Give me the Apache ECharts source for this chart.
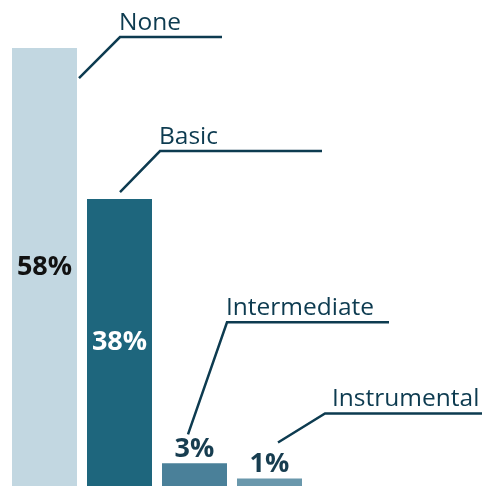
<!DOCTYPE html>
<html><head><meta charset="utf-8">
<style>html,body{margin:0;padding:0;background:#fff}#c{width:482px;height:486px}</style>
<script src="https://cdn.jsdelivr.net/npm/echarts@6/dist/echarts.min.js"></script>
</head><body><div id="c"></div>
<script>
const categories = ['None', 'Basic', 'Intermediate', 'Instrumental'];
const values = [58, 38, 3, 1];
const valueLabels = ['58%', '38%', '3%', '1%'];

const barColors = ['#c2d7e1', '#1e667d', '#4a8099', '#6a98ac'];
const labelInside = [true, true, false, false];
const insideColors = ['#111111', '#ffffff', '#173d50', '#173d50'];
// callout offsets relative to bar top-centre: [startDx, startDy, elbowDx, elbowDy, endDx, textDx]
const callouts = [
  [34.5, 30, 75.5, -11, 177.5, 0],
  [0.5, -7, 40.5, -48, 202.5, 0],
  [-6.5, -29, 32.5, -141, 194.5, 0],
  [8.5, -36, 55.5, -65, 212.5, 8]
];
const font = '"Open Sans", sans-serif';
const ink = '#0d3b50';

const chart = echarts.init(document.getElementById('c'), null, {renderer: 'canvas'});
chart.setOption({
  animation: false,
  grid: {left: 7, width: 300, top: 33, bottom: 0},
  xAxis: {type: 'category', data: categories, show: false},
  yAxis: {type: 'value', min: 0, max: 60, show: false},
  series: [{
    type: 'bar',
    barWidth: 65,
    data: values.map((v, i) => ({
      value: v,
      itemStyle: {color: barColors[i]},
      label: {
        show: true,
        position: labelInside[i] ? 'inside' : 'top',
        distance: 1,
        formatter: valueLabels[i],
        color: insideColors[i],
        fontFamily: font,
        fontWeight: 'bold',
        fontSize: 27
      }
    }))
  }]
});

const graphic = [];
values.forEach((v, i) => {
  const p = chart.convertToPixel({seriesIndex: 0}, [i, v]);
  const c = callouts[i];
  const s = [p[0] + c[0], p[1] + c[1]];
  const e = [p[0] + c[2], p[1] + c[3]];
  const f = [p[0] + c[4], p[1] + c[3]];
  graphic.push({
    type: 'polyline',
    shape: {points: [s, e, f]},
    style: {stroke: ink, lineWidth: 2.5, fill: null}
  });
  graphic.push({
    type: 'text',
    x: e[0] - 1 + c[5], y: e[1] - 2,
    style: {text: categories[i], fill: ink, font: '24.5px ' + font, verticalAlign: 'bottom'}
  });
});
chart.setOption({graphic: graphic});
</script></body></html>
